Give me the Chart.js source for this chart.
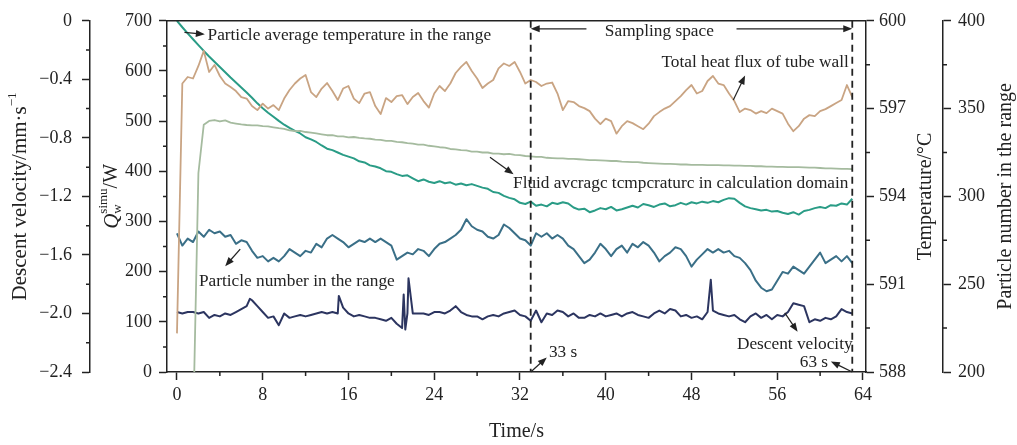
<!DOCTYPE html>
<html>
<head>
<meta charset="utf-8">
<script src="https://cdn.jsdelivr.net/npm/chart.js@4.4.0/dist/chart.umd.min.js"></script>
<style>
  html, body { margin: 0; padding: 0; background: #fff; }
</style>
</head>
<body>
<canvas id="chart" width="1017" height="445"></canvas>
<script>
const INK = '#222';
const SERIF = 'Liberation Serif';

// tick labels
const xTicks = [0, 8, 16, 24, 32, 40, 48, 56, 64];
const xMinor = [4, 12, 20, 28, 36, 44, 52, 60];
const heatTicks = [0, 100, 200, 300, 400, 500, 600, 700];
const heatMinor = [50, 150, 250, 350, 450, 550, 650];
const tempTicks = [588, 591, 594, 597, 600];
const tempMinor = [589.5, 592.5, 595.5, 598.5];
const numberTicks = [200, 250, 300, 350, 400];
const numberMinor = [225, 275, 325, 375];
const velocityTicks = [-2.4, -2.0, -1.6, -1.2, -0.8, -0.4, 0];
const velocityMinor = [-2.2, -1.8, -1.4, -1.0, -0.6, -0.2];

// sampling grid, one value every 0.5 s from 0 to 63 s
const times = [];
for (let i = 0; i <= 126; i++) times.push(i * 0.5);

// total heat flux of tube wall, W
const heatFlux = [
  77, 575, 588, 585, 610, 640, 598, 612, 590, 575,
  568, 560, 548, 545, 530, 522, 535, 525, 532, 522,
  545, 562, 575, 585, 592, 558, 548, 565, 576, 560,
  542, 565, 570, 545, 536, 555, 558, 530, 514, 546,
  538, 550, 552, 534, 548, 556, 540, 527, 555, 570,
  560, 575, 596, 608, 618, 600, 585, 566, 575, 582,
  605, 615, 610, 618, 598, 575, 582, 578, 570, 575,
  577, 555, 522, 540, 538, 530, 526, 520, 505, 494,
  505, 500, 475, 490, 500, 496, 490, 484, 495, 510,
  518, 525, 530, 540, 550, 562, 572, 555, 560, 580,
  590, 575, 572, 555, 540, 518, 525, 522, 515, 520,
  516, 525, 520, 515, 495, 480, 490, 505, 512, 510,
  520, 524, 530, 536, 542, 572, 548
];

// particle average temperature in the range, °C
const particleTemp = [
  600.00, 599.78, 599.57, 599.37, 599.17, 598.97, 598.78, 598.60, 598.42, 598.24,
  598.06, 597.89, 597.72, 597.55, 597.37, 597.18, 597.01, 596.86, 596.72, 596.58,
  596.45, 596.34, 596.24, 596.15, 596.02, 595.95, 595.86, 595.74, 595.63, 595.58,
  595.50, 595.42, 595.36, 595.30, 595.20, 595.16, 595.06, 595.02, 594.96, 594.86,
  594.84, 594.76, 594.70, 594.72, 594.62, 594.52, 594.58, 594.50, 594.46, 594.52,
  594.45, 594.48, 594.40, 594.44, 594.38, 594.42, 594.36, 594.30, 594.26, 594.15,
  594.12, 594.02, 593.95, 593.90, 593.78, 593.74, 593.82, 593.68, 593.72, 593.66,
  593.78, 593.74, 593.80, 593.76, 593.62, 593.55, 593.58, 593.46, 593.52, 593.60,
  593.56, 593.64, 593.52, 593.56, 593.62, 593.68, 593.62, 593.74, 593.70, 593.64,
  593.72, 593.76, 593.66, 593.70, 593.78, 593.72, 593.80, 593.76, 593.82, 593.78,
  593.84, 593.80, 593.88, 593.94, 593.92, 593.78, 593.66, 593.60, 593.56, 593.52,
  593.54, 593.48, 593.50, 593.44, 593.40, 593.46, 593.38, 593.50, 593.54, 593.60,
  593.64, 593.60, 593.70, 593.68, 593.76, 593.72, 593.92
];

// fluid average temperature in calculation domain, °C
const fluidTemp = [
  null, null, null, 586.0, 594.8, 596.45, 596.58, 596.61, 596.56, 596.60,
  596.52, 596.49, 596.46, 596.44, 596.43, 596.43, 596.40, 596.39, 596.36, 596.33,
  596.31, 596.26, 596.23, 596.24, 596.20, 596.18, 596.15, 596.12, 596.09, 596.09,
  596.05, 596.05, 596.02, 596.03, 596.00, 595.98, 595.97, 595.94, 595.93, 595.90,
  595.90, 595.86, 595.85, 595.82, 595.80, 595.77, 595.77, 595.73, 595.71, 595.68,
  595.67, 595.62, 595.61, 595.58, 595.57, 595.53, 595.53, 595.50, 595.50, 595.46,
  595.46, 595.44, 595.45, 595.42, 595.41, 595.38, 595.37, 595.35, 595.35, 595.32,
  595.31, 595.30, 595.30, 595.28, 595.28, 595.27, 595.26, 595.24, 595.24, 595.23,
  595.22, 595.21, 595.21, 595.19, 595.18, 595.17, 595.17, 595.15, 595.14, 595.13,
  595.12, 595.11, 595.11, 595.10, 595.09, 595.09, 595.08, 595.08, 595.08, 595.07,
  595.07, 595.07, 595.06, 595.06, 595.05, 595.05, 595.04, 595.04, 595.03, 595.03,
  595.02, 595.02, 595.01, 595.01, 595.00, 595.00, 595.00, 594.99, 594.98, 594.98,
  594.97, 594.96, 594.96, 594.95, 594.94, 594.94, 594.93
];

// particle number in the range
const particleNumber = [
  279, 272, 276, 274, 280, 277, 281, 279, 280, 277,
  278, 273, 275, 274, 269, 265, 266, 263, 265, 263,
  266, 270, 268, 266, 269, 268, 273, 271, 276, 278,
  276, 274, 271, 273, 275, 274, 276, 274, 276, 274,
  272, 264, 266, 268, 267, 270, 269, 266, 270, 273,
  274, 276, 278, 281, 287, 283, 281, 280, 277, 276,
  278, 284, 282, 279, 276, 275, 272, 279, 277, 279,
  276, 278, 276, 272, 270, 266, 262, 264, 268, 273,
  270, 266, 270, 272, 268, 273, 271, 274, 272, 268,
  263, 266, 268, 271, 270, 266, 260, 264, 267, 270,
  268, 270, 268, 269, 266, 265, 262, 258, 252, 248,
  246, 247, 252, 257, 256, 260, 258, 256, 260, 264,
  268, 262, 264, 266, 263, 266, 262
];

// descent velocity, mm/s
const descentVelocity = [
  -1.99, -2.00, -1.99, -1.99, -2.00, -1.99, -2.03, -2.01, -2.02, -2.00,
  -2.01, -1.99, -1.97, -1.95, -1.91, -1.95, -1.99, -2.03, -2.02, -2.08,
  -2.00, -2.03, -2.02, -2.01, -2.02, -2.01, -2.00, -1.99, -2.00, -1.99,
  -2.00, -1.96, -2.00, -2.02, -2.01, -2.02, -2.03, -2.03, -2.04, -2.05,
  -2.03, -2.07, -2.10, -2.00, -2.00, -2.00, -2.00, -2.01, -1.99, -1.99,
  -2.00, -1.98, -1.95, -1.99, -2.01, -2.02, -2.02, -2.04, -2.02, -2.01,
  -2.02, -2.00, -1.99, -1.98, -2.01, -2.02, -2.05, -1.98, -2.06, -2.00,
  -2.01, -1.98, -1.99, -2.02, -2.00, -2.03, -2.03, -2.01, -2.02, -2.00,
  -2.02, -2.01, -2.00, -2.02, -2.00, -1.99, -2.01, -2.02, -2.03, -2.00,
  -1.98, -2.00, -1.97, -1.98, -2.02, -2.01, -2.03, -2.02, -2.04, -1.99,
  -1.98, -2.00, -2.01, -2.02, -2.01, -2.04, -2.06, -2.02, -2.00, -2.03,
  -2.01, -2.04, -2.01, -2.02, -1.99, -1.93, -1.94, -1.95, -2.06, -2.04,
  -2.05, -2.03, -2.04, -2.02, -1.97, -1.99, -2.00
];
// short spikes between grid samples: [time, velocity]
const velocitySpikes = [[6.8, -1.90], [15.1, -1.88], [21.15, -1.87], [21.3, -2.11], [21.6, -1.76], [49.8, -1.77]];

const samplingStart = 33;
const samplingEnd = 63;

function toPoints(values) {
  return values.map((v, i) => ({ x: times[i], y: v }));
}

const velocityPoints = toPoints(descentVelocity)
  .concat(velocitySpikes.map(([x, y]) => ({ x, y })))
  .sort((a, b) => a.x - b.x);

const tickFont = { family: SERIF, size: 18 };

function yAxis(position, weight, width, min, max, ticks, padding, format) {
  return {
    type: 'linear',
    position,
    weight,
    min,
    max,
    afterBuildTicks: (scale) => { scale.ticks = ticks.map((v) => ({ value: v })); },
    afterFit: (scale) => { scale.width = width; },
    ticks: { font: tickFont, color: INK, padding, autoSkip: false, callback: format },
    grid: { drawOnChartArea: false, tickLength: 8, tickWidth: 1.5, tickColor: INK },
    border: { color: INK, width: 1.5 },
  };
}

function drawArrow(ctx, x1, y1, x2, y2) {
  const ang = Math.atan2(y2 - y1, x2 - x1);
  const len = 9;
  const half = 3.5;
  ctx.beginPath();
  ctx.moveTo(x1, y1);
  ctx.lineTo(x2 - Math.cos(ang) * len * 0.8, y2 - Math.sin(ang) * len * 0.8);
  ctx.lineWidth = 1.2;
  ctx.stroke();
  ctx.beginPath();
  ctx.moveTo(x2, y2);
  ctx.lineTo(x2 - Math.cos(ang) * len - Math.sin(ang) * half, y2 - Math.sin(ang) * len + Math.cos(ang) * half);
  ctx.lineTo(x2 - Math.cos(ang) * len + Math.sin(ang) * half, y2 - Math.sin(ang) * len - Math.cos(ang) * half);
  ctx.closePath();
  ctx.fill();
}

// parts: [{ text, font, dy, stack }] drawn rotated, reading bottom to top
function drawVerticalTitle(ctx, parts, cx, cy) {
  ctx.save();
  ctx.translate(cx, cy);
  ctx.rotate(-Math.PI / 2);
  ctx.textBaseline = 'middle';
  ctx.textAlign = 'left';
  let total = 0;
  parts.forEach((p) => {
    ctx.font = p.font;
    if (!p.stack) total += ctx.measureText(p.text).width;
    else total += Math.max(...p.stack.map((s) => { ctx.font = s.font; return ctx.measureText(s.text).width; }));
  });
  let x = -total / 2;
  parts.forEach((p) => {
    if (!p.stack) {
      ctx.font = p.font;
      ctx.fillText(p.text, x, p.dy || 0);
      x += ctx.measureText(p.text).width;
    } else {
      let w = 0;
      p.stack.forEach((s) => {
        ctx.font = s.font;
        ctx.fillText(s.text, x, s.dy);
        w = Math.max(w, ctx.measureText(s.text).width);
      });
      x += w;
    }
  });
  ctx.restore();
}

const decorPlugin = {
  id: 'decor',
  afterDraw(chart) {
    const { ctx, chartArea: area, scales } = chart;
    const xs = scales.x;
    const yq = scales.yQ;
    const P = (t, q) => [xs.getPixelForValue(t), yq.getPixelForValue(q)];
    ctx.save();
    ctx.strokeStyle = INK;
    ctx.fillStyle = INK;
    ctx.lineWidth = 1.5;

    // frame top
    ctx.beginPath();
    ctx.moveTo(area.left, area.top);
    ctx.lineTo(area.right, area.top);
    ctx.stroke();

    // minor ticks
    const minor = 4;
    ctx.beginPath();
    xMinor.forEach((v) => {
      const px = xs.getPixelForValue(v);
      ctx.moveTo(px, area.bottom);
      ctx.lineTo(px, area.bottom + minor);
    });
    heatMinor.forEach((v) => {
      const py = yq.getPixelForValue(v);
      ctx.moveTo(yq.right, py);
      ctx.lineTo(yq.right - minor, py);
    });
    velocityMinor.forEach((v) => {
      const py = scales.yV.getPixelForValue(v);
      ctx.moveTo(scales.yV.right, py);
      ctx.lineTo(scales.yV.right - minor, py);
    });
    tempMinor.forEach((v) => {
      const py = scales.yT.getPixelForValue(v);
      ctx.moveTo(scales.yT.left, py);
      ctx.lineTo(scales.yT.left + minor, py);
    });
    numberMinor.forEach((v) => {
      const py = scales.yP.getPixelForValue(v);
      ctx.moveTo(scales.yP.left, py);
      ctx.lineTo(scales.yP.left + minor, py);
    });
    ctx.stroke();

    // sampling space dashed lines
    const xa = xs.getPixelForValue(samplingStart);
    const xb = xs.getPixelForValue(samplingEnd);
    ctx.setLineDash([7, 5]);
    ctx.lineWidth = 1.8;
    ctx.beginPath();
    ctx.moveTo(xa, area.top);
    ctx.lineTo(xa, area.bottom);
    ctx.moveTo(xb, area.top);
    ctx.lineTo(xb, area.bottom);
    ctx.stroke();
    ctx.setLineDash([]);

    // annotations
    ctx.font = '17.3px ' + SERIF;
    ctx.textBaseline = 'middle';
    ctx.textAlign = 'left';
    const label = (text, t, q) => { const [px, py] = P(t, q); ctx.fillText(text, px, py); };
    const arrow = (t1, q1, t2, q2) => { const a = P(t1, q1); const b = P(t2, q2); drawArrow(ctx, a[0], a[1], b[0], b[1]); };

    label('Particle average temperature in the range', 2.85, 670);
    arrow(0.7, 677, 2.6, 673);

    ctx.textAlign = 'center';
    label('Sampling space', 45.0, 678);
    const ySamp = yq.getPixelForValue(684);
    drawArrow(ctx, xs.getPixelForValue(38.2), ySamp, xa, ySamp);
    drawArrow(ctx, xs.getPixelForValue(52.2), ySamp, xb, ySamp);
    ctx.textAlign = 'left';

    label('Total heat flux of tube wall', 45.2, 617);
    arrow(51.9, 542, 53.0, 591);

    label('Fluid avcragc tcmpcraturc in calculation domain', 31.35, 375);
    arrow(29.2, 428, 31.4, 394);

    label('Particle number in the range', 2.05, 181);
    arrow(5.9, 245, 4.5, 211);

    label('Descent velocity', 52.24, 55);
    arrow(56.7, 118, 57.9, 80);

    label('33 s', 34.7, 39);
    arrow(samplingStart, 0, 34.5, 29);

    label('63 s', 58.1, 20);
    arrow(samplingEnd, 0, 61.0, 21);

    // axis titles
    const tf = '20px ' + SERIF;
    const midY = (area.top + area.bottom) / 2;
    ctx.textAlign = 'center';
    ctx.font = tf;
    ctx.fillText('Time/s', (area.left + area.right) / 2, 432);
    drawVerticalTitle(ctx, [
      { text: 'Descent velocity/mm\u00b7s', font: '21px ' + SERIF },
      { text: '\u22121', font: '13px ' + SERIF, dy: -7 },
    ], 20, midY);
    drawVerticalTitle(ctx, [
      { text: 'Q', font: 'italic 21px ' + SERIF },
      { stack: [
        { text: 'simu', font: '13px ' + SERIF, dy: -8 },
        { text: 'w', font: '13px ' + SERIF, dy: 6 },
      ] },
      { text: '/W', font: tf },
    ], 112, midY);
    drawVerticalTitle(ctx, [{ text: 'Temperature/\u00b0C', font: tf }], 926, midY);
    drawVerticalTitle(ctx, [{ text: 'Particle number in the range', font: tf }], 1006, midY);

    ctx.restore();
  },
};

new Chart(document.getElementById('chart'), {
  type: 'line',
  data: {
    datasets: [
      { label: 'Total heat flux of tube wall', data: toPoints(heatFlux), yAxisID: 'yQ', borderColor: '#c9a483', borderWidth: 1.8 },
      { label: 'Fluid average temperature in calculation domain', data: toPoints(fluidTemp), yAxisID: 'yT', borderColor: '#a5bb9f', borderWidth: 1.8 },
      { label: 'Particle average temperature in the range', data: toPoints(particleTemp), yAxisID: 'yT', borderColor: '#2a9c86', borderWidth: 2 },
      { label: 'Particle number in the range', data: toPoints(particleNumber), yAxisID: 'yP', borderColor: '#3a6f87', borderWidth: 2 },
      { label: 'Descent velocity', data: velocityPoints, yAxisID: 'yV', borderColor: '#2c3560', borderWidth: 2 },
    ],
  },
  options: {
    responsive: false,
    animation: false,
    devicePixelRatio: 1,
    elements: { point: { radius: 0 }, line: { tension: 0, borderJoinStyle: 'round' } },
    layout: { padding: { top: 17, left: 0, right: 0, bottom: 0 } },
    plugins: { legend: { display: false }, tooltip: { enabled: false } },
    scales: {
      x: {
        type: 'linear',
        position: 'bottom',
        min: -0.93,
        max: 64.28,
        bounds: 'data',
        afterBuildTicks: (scale) => { scale.ticks = xTicks.map((v) => ({ value: v })); },
        afterFit: (scale) => { scale.height = 73; },
        ticks: { font: tickFont, color: INK, padding: 4, autoSkip: false, maxRotation: 0 },
        grid: { drawOnChartArea: false, tickLength: 8, tickWidth: 1.5, tickColor: INK },
        border: { color: INK, width: 1.5 },
      },
      yV: yAxis('left', 2, 90, -2.4, 0, velocityTicks, 10,
        (v) => (v === 0 ? '0' : '\u2212' + Math.abs(v).toFixed(1))),
      yQ: yAxis('left', 1, 77, 0, 700, heatTicks, 7, (v) => String(v)),
      yT: yAxis('right', 1, 77, 588, 600, tempTicks, 5, (v) => String(v)),
      yP: yAxis('right', 2, 74, 200, 400, numberTicks, 7, (v) => String(v)),
    },
  },
  plugins: [decorPlugin],
});
</script>
</body>
</html>
